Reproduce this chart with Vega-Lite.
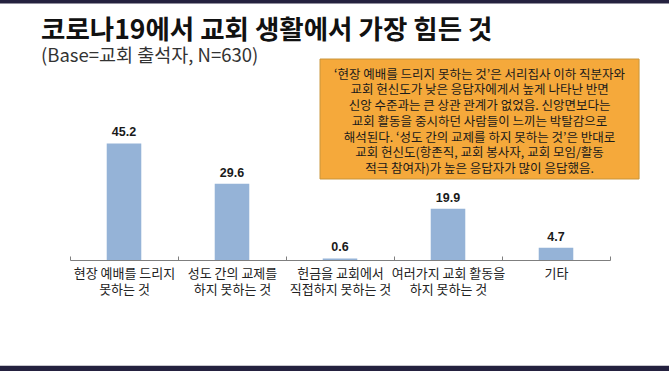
{
  "$schema": "https://vega.github.io/schema/vega-lite/v6.json",
  "width": 540,
  "height": 129,
  "autosize": {"type": "none"},
  "padding": {"left": 70, "right": 59, "top": 131, "bottom": 111},
  "background": "white",
  "config": {"view": {"stroke": null}, "font": "Noto Sans CJK KR"},
  "title": {
    "text": "코로나19에서 교회 생활에서 가장 힘든 것",
    "subtitle": "(Base=교회 출석자, N=630)",
    "anchor": "start",
    "frame": "group",
    "dx": -29,
    "offset": -66,
    "font": "Noto Sans CJK KR",
    "fontSize": 26.5,
    "fontWeight": "bold",
    "color": "#111111",
    "subtitleFont": "Noto Sans CJK KR",
    "subtitleFontSize": 18.5,
    "subtitleColor": "#333333",
    "subtitlePadding": 2
  },
  "layer": [
    {
      "data": {"values": [{"note": "‘현장 예배를 드리지 못하는 것’은 서리집사 이하 직분자와\n교회 헌신도가 낮은 응답자에게서 높게 나타난 반면\n신앙 수준과는 큰 상관 관계가 없었음. 신앙면보다는\n교회 활동을 중시하던 사람들이 느끼는 박탈감으로\n해석된다. ‘성도 간의 교제를 하지 못하는 것’은 반대로\n교회 헌신도(항존직, 교회 봉사자, 교회 모임/활동\n적극 참여자)가 높은 응답자가 많이 응답했음."}]},
      "layer": [
        {
          "mark": {"type": "rect", "color": "#24213F"},
          "encoding": {
            "x": {"datum": -0.7, "type": "quantitative", "scale": {"domain": [0, 5], "nice": false, "zero": false}, "axis": null},
            "x2": {"datum": 5.6},
            "y": {"datum": 101, "type": "quantitative", "axis": null},
            "y2": {"datum": 99.4}
          }
        },
        {
          "mark": {"type": "rect", "color": "#24213F"},
          "encoding": {
            "x": {"datum": -0.7, "type": "quantitative", "scale": {"domain": [0, 5], "nice": false, "zero": false}, "axis": null},
            "x2": {"datum": 5.6},
            "y": {"datum": -41.0, "type": "quantitative", "axis": null},
            "y2": {"datum": -44}
          }
        },
        {
          "mark": {"type": "rect", "fill": "#F5A93B", "stroke": "#C9953A", "strokeWidth": 1},
          "encoding": {
            "x": {"datum": 2.315, "type": "quantitative", "scale": {"domain": [0, 5], "nice": false, "zero": false}, "axis": null},
            "x2": {"datum": 5.269},
            "y": {"datum": 77.9, "type": "quantitative", "axis": null},
            "y2": {"datum": 31.4}
          }
        },
        {
          "mark": {"type": "text", "align": "center", "baseline": "middle", "lineBreak": "\n", "lineHeight": 15.7, "font": "Noto Sans CJK KR", "fontSize": 12.5, "color": "#1A1A1A"},
          "encoding": {
            "x": {"datum": 3.792, "type": "quantitative", "scale": {"domain": [0, 5], "nice": false, "zero": false}, "axis": null},
            "y": {"datum": 71.8, "type": "quantitative", "axis": null},
            "text": {"field": "note"}
          }
        }
      ]
    },
    {
      "data": {"values": [
        {"item": "현장 예배를 드리지\n못하는 것", "pct": 45.2},
        {"item": "성도 간의 교제를\n하지 못하는 것", "pct": 29.6},
        {"item": "헌금을 교회에서\n직접하지 못하는 것", "pct": 0.6},
        {"item": "여러가지 교회 활동을\n하지 못하는 것", "pct": 19.9},
        {"item": "기타", "pct": 4.7}
      ]},
      "encoding": {
        "x": {
          "field": "item", "type": "nominal", "sort": null,
          "scale": {"paddingInner": 0, "paddingOuter": 0},
          "axis": {
            "title": null, "labelAngle": 0, "domainColor": "#7F7F7F", "tickColor": "#7F7F7F",
            "tickBand": "extent", "tickSize": -4, "labelPadding": 11,
            "labelExpr": "split(datum.label, '\\n')",
            "labelFont": "Noto Sans CJK KR", "labelFontSize": 13, "labelColor": "#222222", "labelLineHeight": 16
          }
        },
        "y": {"field": "pct", "type": "quantitative", "scale": {"domain": [0, 50], "nice": false}, "axis": null}
      },
      "layer": [
        {"mark": {"type": "bar", "width": {"band": 0.32}, "color": "#95B3D7"}},
        {
          "mark": {"type": "text", "baseline": "middle", "dy": -11, "font": "Liberation Sans", "fontWeight": "bold", "fontSize": 12.5, "color": "#1A1A1A"},
          "encoding": {"text": {"field": "pct", "type": "quantitative", "format": ".1f"}}
        }
      ]
    }
  ],
  "resolve": {"scale": {"x": "independent"}}
}
